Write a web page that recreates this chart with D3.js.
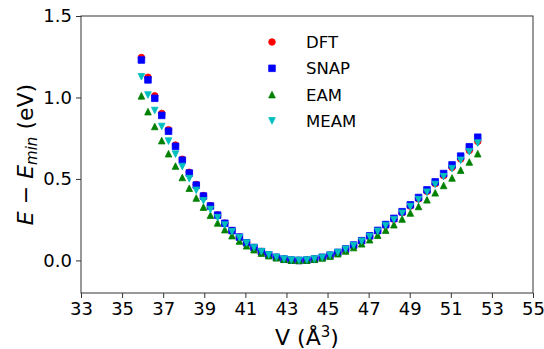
<!DOCTYPE html>
<html>
<head>
<meta charset="utf-8">
<script src="https://cdn.jsdelivr.net/npm/d3@7"></script>
<style>
  body { margin: 0; background: #fff; }
  text { font-family: "DejaVu Sans", sans-serif; fill: #000; }
</style>
</head>
<body>
<script>
// volumes (A^3), one per lattice step
const volumes = [35.94, 36.26, 36.59, 36.93, 37.26, 37.60, 37.93, 38.27, 38.61, 38.96,
  39.30, 39.65, 40.00, 40.35, 40.71, 41.06, 41.42, 41.78, 42.14, 42.51,
  42.88, 43.24, 43.61, 43.99, 44.36, 44.74, 45.12, 45.50, 45.88, 46.27,
  46.66, 47.05, 47.44, 47.83, 48.23, 48.63, 49.03, 49.43, 49.84, 50.24,
  50.65, 51.06, 51.48, 51.90, 52.31];

const dft = [1.245, 1.124, 1.010, 0.902, 0.802, 0.708, 0.621, 0.541, 0.466, 0.398,
  0.336, 0.279, 0.228, 0.183, 0.143, 0.108, 0.079, 0.054, 0.034, 0.019,
  0.008, 0.002, 0.000, 0.002, 0.008, 0.018, 0.031, 0.048, 0.068, 0.092,
  0.118, 0.148, 0.180, 0.215, 0.252, 0.292, 0.333, 0.377, 0.423, 0.471,
  0.520, 0.570, 0.622, 0.675, 0.730];

const snap = [1.230, 1.108, 0.995, 0.890, 0.793, 0.700, 0.615, 0.536, 0.462, 0.395,
  0.334, 0.278, 0.228, 0.183, 0.143, 0.108, 0.079, 0.054, 0.034, 0.019,
  0.008, 0.002, 0.000, 0.002, 0.008, 0.019, 0.032, 0.049, 0.070, 0.094,
  0.121, 0.151, 0.184, 0.220, 0.258, 0.299, 0.341, 0.386, 0.433, 0.482,
  0.533, 0.586, 0.640, 0.697, 0.756];

const eam = [1.010, 0.913, 0.822, 0.735, 0.655, 0.579, 0.509, 0.443, 0.383, 0.327,
  0.277, 0.230, 0.189, 0.152, 0.119, 0.090, 0.066, 0.045, 0.029, 0.016,
  0.007, 0.002, 0.000, 0.002, 0.007, 0.015, 0.026, 0.041, 0.058, 0.079,
  0.102, 0.127, 0.155, 0.186, 0.219, 0.254, 0.291, 0.331, 0.372, 0.415,
  0.460, 0.506, 0.554, 0.604, 0.655];

const meam = [1.127, 1.015, 0.920, 0.822, 0.732, 0.652, 0.576, 0.502, 0.430, 0.366,
  0.312, 0.262, 0.217, 0.176, 0.139, 0.106, 0.078, 0.053, 0.034, 0.019,
  0.008, 0.002, 0.000, 0.002, 0.008, 0.018, 0.031, 0.048, 0.068, 0.091,
  0.117, 0.146, 0.178, 0.213, 0.250, 0.289, 0.330, 0.373, 0.418, 0.466,
  0.514, 0.563, 0.614, 0.666, 0.720];

const xTicks = d3.range(33, 56, 2);
const yTicks = [0.0, 0.5, 1.0, 1.5];

const width = 544, height = 349;
const margin = { left: 81, right: 11, top: 16, bottom: 56 };

const svg = d3.select('body').append('svg')
  .attr('width', width)
  .attr('height', height);

const x = d3.scaleLinear().domain([33, 55]).range([margin.left, width - margin.right]);
const y = d3.scaleLinear().domain([-0.2, 1.5]).range([height - margin.bottom, margin.top]);

/* matplotlib-like marker shapes: width == height == size */
const mk = (draw) => ({ draw: (ctx, s) => draw(ctx, Math.sqrt(s) / 2) });
const shapes = {
  circle: mk((c, h) => { c.moveTo(h, 0); c.arc(0, 0, h, 0, 2 * Math.PI); }),
  square: mk((c, h) => { c.rect(-h, -h, 2 * h, 2 * h); }),
  up: mk((c, h) => { c.moveTo(0, -h); c.lineTo(h, h); c.lineTo(-h, h); c.closePath(); }),
  down: mk((c, h) => { c.moveTo(0, h); c.lineTo(h, -h); c.lineTo(-h, -h); c.closePath(); }),
};
const msize = 6.6;

const series = [
  { name: 'DFT', values: dft, color: '#ff0000', shape: shapes.circle },
  { name: 'SNAP', values: snap, color: '#0000ff', shape: shapes.square },
  { name: 'EAM', values: eam, color: '#008000', shape: shapes.up },
  { name: 'MEAM', values: meam, color: '#00bfbf', shape: shapes.down },
];

const sym = d3.symbol().size(msize * msize);

series.forEach(s => {
  svg.append('g').selectAll('path')
    .data(s.values)
    .join('path')
      .attr('d', sym.type(s.shape)())
      .attr('transform', (d, i) => `translate(${x(volumes[i])},${y(d)})`)
      .attr('fill', s.color)
      .attr('stroke', s.color)
      .attr('stroke-width', 0.8);
});

// axes
const xAxis = svg.append('g')
  .attr('transform', `translate(0,${height - margin.bottom})`)
  .call(d3.axisBottom(x).tickValues(xTicks).tickSize(5).tickPadding(4).tickFormat(d3.format('d')));
const yAxis = svg.append('g')
  .attr('transform', `translate(${margin.left},0)`)
  .call(d3.axisLeft(y).tickValues(yTicks).tickSize(5).tickPadding(4).tickFormat(d3.format('.1f')));
[xAxis, yAxis].forEach(a => {
  a.select('.domain').remove();
  a.selectAll('line').attr('stroke', '#333').attr('stroke-width', 1);
  a.selectAll('text').attr('font-size', 18).attr('font-family', '"DejaVu Sans", sans-serif');
});

// frame
svg.append('rect')
  .attr('x', margin.left).attr('y', margin.top)
  .attr('width', width - margin.left - margin.right)
  .attr('height', height - margin.top - margin.bottom)
  .attr('fill', 'none').attr('stroke', '#333').attr('stroke-width', 1);

// axis labels
const xl = svg.append('text')
  .attr('x', (margin.left + width - margin.right) / 2)
  .attr('y', 345)
  .attr('text-anchor', 'middle')
  .attr('font-size', 22);
xl.append('tspan').text('V (Å');
xl.append('tspan').attr('font-size', 15).attr('dy', -8).text('3');
xl.append('tspan').attr('dy', 8).text(')');

const yl = svg.append('text')
  .attr('transform', `translate(33,${(margin.top + height - margin.bottom) / 2}) rotate(-90)`)
  .attr('text-anchor', 'middle')
  .attr('font-size', 22);
yl.append('tspan').attr('font-style', 'italic').text('E');
yl.append('tspan').text(' − ');
yl.append('tspan').attr('font-style', 'italic').text('E');
yl.append('tspan').attr('font-style', 'italic').attr('font-size', 15).attr('dy', 4).text('min');
yl.append('tspan').attr('dy', -4).text(' (eV)');

// legend
const legend = svg.append('g').attr('transform', 'translate(272,42)');
series.forEach((s, i) => {
  const row = legend.append('g').attr('transform', `translate(0,${i * 26.3})`);
  row.append('path')
    .attr('d', sym.type(s.shape)())
    .attr('fill', s.color).attr('stroke', s.color).attr('stroke-width', 0.8);
  row.append('text')
    .attr('x', 34).attr('y', 6)
    .attr('font-size', 16.5)
    .text(s.name);
});
</script>
</body>
</html>
